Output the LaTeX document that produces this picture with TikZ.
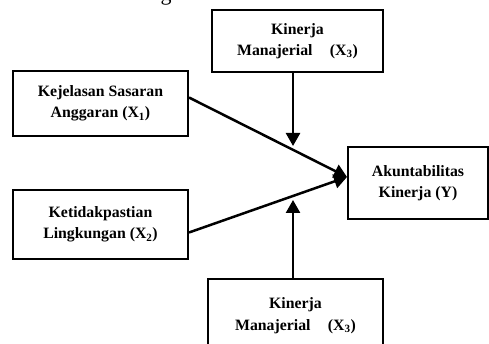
\documentclass[tikz,border=0pt]{standalone}
\usepackage{fontspec}
\setmainfont{Liberation Serif}
\usetikzlibrary{arrows.meta,calc}
\tikzset{
  box/.style={draw, line width=2pt, rectangle, align=center, inner sep=0pt,
    font=\bfseries\fontsize{15.8}{21.5}\selectfont},
  conn/.style={line width=2.5pt},
  arr/.style={conn, -{Triangle[length=13pt,width=14pt]}}
}
\begin{document}
\begin{tikzpicture}[x=1pt,y=-1pt]
\useasboundingbox (0,0) rectangle (489,344);
\clip (0,0) rectangle (489,344);
\node[anchor=base, font=\fontsize{22}{24}\selectfont] (frag) at (166,0.5) {g};
\node[box, minimum width=171pt, minimum height=62pt] (top) at (297.5,41) {Kinerja\\Manajerial\hspace{1.1em}(X\textsubscript{3})};
\node[box, minimum width=175pt, minimum height=65pt] (b1) at (100.5,103.5) {Kejelasan Sasaran\\Anggaran (X\textsubscript{1})};
\node[box, minimum width=175pt, minimum height=69pt] (b2) at (100.5,224.5) {Ketidakpastian\\Lingkungan (X\textsubscript{2})};
\node[box, minimum width=140pt, minimum height=72pt] (Y) at (418,183) {Akuntabilitas\\Kinerja (Y)};
\node[box, minimum width=175pt, minimum height=73pt] (bot) at (295.5,315.5) {Kinerja\\Manajerial\hspace{1.1em}(X\textsubscript{3})};
\coordinate (tip) at ($(Y.west)+(0,-6)$);
\coordinate (m1) at (293,146);
\coordinate (m2) at (293,200);
\draw[arr] ($(b1.east)+(0,-6)$) -- (tip);
\draw[arr] ($(b2.east)+(0,8)$) -- (tip);
\draw[arr] (top.south -| m1) -- (m1);
\draw[arr] (bot.north -| m2) -- (m2);
\end{tikzpicture}
\end{document}
